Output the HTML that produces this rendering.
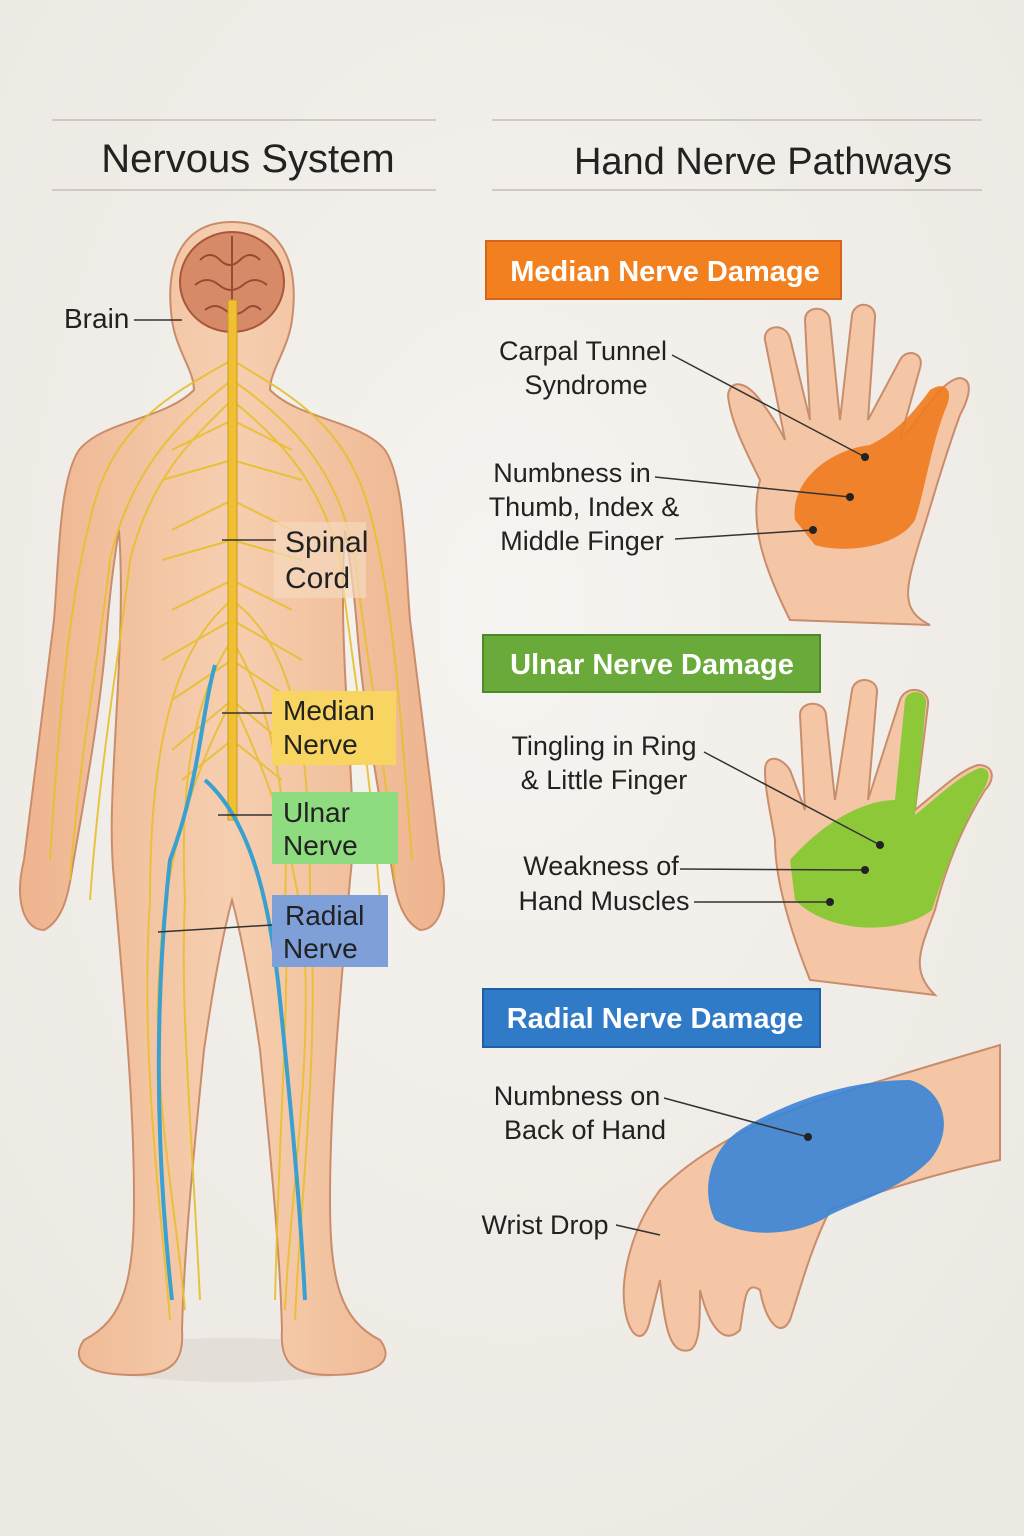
<!DOCTYPE html>
<html><head><meta charset="utf-8"><style>
html,body{margin:0;padding:0;}
body{width:1024px;height:1536px;background:#f2efea;overflow:hidden;font-family:"Liberation Sans",sans-serif;}
svg{display:block}
text{font-family:"Liberation Sans",sans-serif;}
</style></head><body>
<svg width="1024" height="1536" viewBox="0 0 1024 1536" xmlns="http://www.w3.org/2000/svg">
<defs>
<radialGradient id="bg" cx="50%" cy="40%" r="70%"><stop offset="0" stop-color="#f6f4f0"/><stop offset="1" stop-color="#ece8e2"/></radialGradient>
<linearGradient id="skin" x1="0" x2="1"><stop offset="0" stop-color="#eeb48e"/><stop offset="0.5" stop-color="#f6cfb0"/><stop offset="1" stop-color="#eeb48e"/></linearGradient>
</defs>
<rect width="1024" height="1536" fill="url(#bg)"/>
<line x1="52" y1="120" x2="436" y2="120" stroke="#cfcac4" stroke-width="2"/>
<line x1="52" y1="190" x2="436" y2="190" stroke="#cfcac4" stroke-width="2"/>
<line x1="492" y1="120" x2="982" y2="120" stroke="#cfcac4" stroke-width="2"/>
<line x1="492" y1="190" x2="982" y2="190" stroke="#cfcac4" stroke-width="2"/>
<text x="248" y="172" font-size="40" text-anchor="middle" fill="#222">Nervous System</text>
<text x="763" y="174" font-size="38" text-anchor="middle" fill="#222">Hand Nerve Pathways</text>

<ellipse cx="232" cy="1360" rx="150" ry="22" fill="#ddd6cf" opacity="0.6"/>
<path fill="url(#skin)" stroke="#c98d6c" stroke-width="2" d="
M232 222 C 280 222 300 260 292 320 C 288 350 270 370 270 390 C 300 420 360 420 385 450
C 405 480 405 560 410 620 C 420 700 430 780 440 860 C 450 900 440 930 420 930
C 400 920 395 890 392 870 C 380 800 365 720 358 640 C 355 600 350 560 345 530 C 340 600 345 680 350 760 C 352 800 355 840 350 880
C 340 1000 330 1100 330 1200 C 330 1280 340 1320 380 1340 C 395 1360 380 1375 330 1375
C 290 1375 280 1360 282 1330 C 280 1250 270 1150 260 1050 C 250 980 240 930 232 900
C 224 930 214 980 204 1050 C 194 1150 184 1250 182 1330 C 184 1360 174 1375 134 1375
C 84 1375 70 1360 84 1340 C 124 1320 134 1280 134 1200 C 134 1100 124 1000 114 880
C 110 840 112 800 114 760 C 118 680 124 600 119 530 C 114 560 109 600 106 640 C 99 720 84 800 72 870 C 69 890 64 920 44 930
C 24 930 14 900 24 860 C 34 780 44 700 54 620 C 59 560 59 480 79 450
C 104 420 164 420 194 390 C 194 370 176 350 172 320 C 164 260 184 222 232 222 Z"/>
<ellipse cx="232" cy="282" rx="52" ry="50" fill="#d68a68" stroke="#a9573c" stroke-width="2"/>
<path d="M200 260 q10 -10 20 0 q10 10 20 0 q10 -10 20 0 M195 285 q12 -10 24 0 q12 10 24 0 q12 -10 24 0 M205 310 q10 -8 20 0 q10 8 20 0 q8 -8 16 0 M232 236 v88" stroke="#9a4a30" stroke-width="2" fill="none"/>
<g stroke="#e8bf30" stroke-width="2" fill="none" opacity="0.9">
<path d="M232 360 C 160 400 110 430 90 520 C 70 600 60 700 50 860"/>
<path d="M232 380 C 180 420 130 470 110 560 C 100 650 80 750 70 880"/>
<path d="M232 360 C 300 400 350 430 372 520 C 392 600 400 700 412 860"/>
<path d="M232 380 C 290 420 340 470 355 560 C 365 650 385 750 395 880"/>
<path d="M232 400 C 190 440 150 480 130 560 C 120 650 100 760 90 900"/>
<path d="M232 400 C 280 440 320 480 340 560 C 350 650 370 760 380 900"/>
<path d="M232 600 C 170 650 150 760 150 900 C 140 1050 160 1200 170 1320"/>
<path d="M232 600 C 300 650 310 760 310 900 C 320 1050 300 1200 295 1320"/>
<path d="M232 640 C 190 700 180 800 185 900 C 180 1000 190 1100 200 1300"/>
<path d="M232 640 C 270 700 290 800 285 900 C 290 1000 280 1100 275 1300"/>
<path d="M232 700 C 200 760 165 850 160 960 C 150 1080 175 1200 185 1310"/>
<path d="M232 700 C 260 760 300 850 305 960 C 310 1080 290 1200 285 1310"/>
<path d="M232 420 l-60 30 M232 420 l60 30 M232 460 l-70 20 M232 460 l70 20 M232 500 l-60 30 M232 500 l60 30 M232 540 l-70 20 M232 540 l70 20 M232 580 l-60 30 M232 580 l60 30 M232 620 l-70 40 M232 620 l70 40 M232 660 l-60 40 M232 660 l60 40 M232 700 l-60 50 M232 700 l60 50 M232 740 l-50 40 M232 740 l50 40"/>
</g>
<rect x="228" y="300" width="9" height="520" fill="#f0c030" stroke="#c99a20" stroke-width="1"/>
<path d="M215 665 C 200 720 200 780 170 860 C 160 950 150 1100 172 1300" stroke="#3aa0cf" stroke-width="4" fill="none"/>
<path d="M205 780 C 250 820 270 900 280 1000 C 290 1100 300 1200 305 1300" stroke="#3aa0cf" stroke-width="4" fill="none"/>

<text x="64" y="328" font-size="28" fill="#222">Brain</text>
<line x1="134" y1="320" x2="182" y2="320" stroke="#333" stroke-width="1.5"/>
<rect x="274" y="522" width="92" height="76" fill="#f5d8bd" opacity="0.7"/>
<text x="285" y="552" font-size="30" fill="#222">Spinal</text>
<text x="285" y="588" font-size="30" fill="#222">Cord</text>
<line x1="222" y1="540" x2="276" y2="540" stroke="#333" stroke-width="1.5"/>
<rect x="272" y="691" width="124" height="74" fill="#f7d560"/>
<text x="283" y="720" font-size="28" fill="#222">Median</text>
<text x="283" y="754" font-size="28" fill="#222">Nerve</text>
<line x1="222" y1="713" x2="272" y2="713" stroke="#333" stroke-width="1.5"/>
<rect x="272" y="792" width="126" height="72" fill="#8fdc80"/>
<text x="283" y="822" font-size="28" fill="#222">Ulnar</text>
<text x="283" y="855" font-size="28" fill="#222">Nerve</text>
<line x1="218" y1="815" x2="272" y2="815" stroke="#333" stroke-width="1.5"/>
<rect x="272" y="895" width="116" height="72" fill="#7f9fd8"/>
<text x="285" y="925" font-size="28" fill="#222">Radial</text>
<text x="283" y="958" font-size="28" fill="#222">Nerve</text>
<line x1="158" y1="932" x2="272" y2="925" stroke="#333" stroke-width="1.5"/>

<rect x="486" y="241" width="355" height="58" fill="#f2801f" stroke="#d4651a" stroke-width="2"/>
<text x="665" y="281" font-size="29" font-weight="bold" fill="#fff" text-anchor="middle">Median Nerve Damage</text>
<rect x="483" y="635" width="337" height="57" fill="#6aaa3a" stroke="#4f8a28" stroke-width="2"/>
<text x="652" y="674" font-size="29" font-weight="bold" fill="#fff" text-anchor="middle">Ulnar Nerve Damage</text>
<rect x="483" y="989" width="337" height="58" fill="#2f7bc8" stroke="#1e5fa6" stroke-width="2"/>
<text x="655" y="1028" font-size="29" font-weight="bold" fill="#fff" text-anchor="middle">Radial Nerve Damage</text>

<path fill="#f4c6a6" stroke="#c98d6c" stroke-width="2" d="M790 620 C 760 560 750 520 760 480 C 745 450 730 420 728 395 C 730 380 745 380 760 400 C 775 420 780 430 785 440 L 765 340 C 763 325 785 322 790 338 L 810 420 L 805 320 C 805 305 828 305 830 320 L 840 420 L 852 315 C 855 300 876 302 875 318 L 868 420 L 900 360 C 906 348 925 352 920 368 L 900 440 C 920 420 940 380 960 378 C 975 380 968 400 960 415 C 940 470 930 510 920 540 C 905 590 900 610 930 625 Z"/>
<path fill="#ef7a1e" opacity="0.9" d="M795 520 C 790 480 830 450 870 445 C 900 430 915 410 930 390 C 945 380 955 390 945 410 C 930 450 925 490 915 520 C 900 545 850 555 815 545 Z"/>
<g font-size="27" fill="#222" text-anchor="middle">
<text x="583" y="360">Carpal Tunnel</text><text x="586" y="394">Syndrome</text>
<text x="572" y="482">Numbness in</text><text x="584" y="516">Thumb, Index &amp;</text><text x="582" y="550">Middle Finger</text>
<text x="604" y="755">Tingling in Ring</text><text x="604" y="789">&amp; Little Finger</text>
<text x="601" y="875">Weakness of</text><text x="604" y="910">Hand Muscles</text>
<text x="577" y="1105">Numbness on</text><text x="585" y="1139">Back of Hand</text>
<text x="545" y="1234">Wrist Drop</text>
</g>
<path fill="#f4c6a6" stroke="#c98d6c" stroke-width="2" d="M810 980 C 790 930 775 880 775 840 C 770 810 765 790 765 770 C 765 755 780 755 790 770 L 805 810 L 800 715 C 800 700 825 700 826 715 L 835 800 L 852 690 C 855 675 878 678 877 692 L 868 800 L 900 700 C 906 684 930 688 928 705 L 915 810 C 940 790 960 770 978 765 C 995 765 995 780 985 790 C 960 830 945 870 935 910 C 920 950 910 970 935 995 Z"/>
<path fill="#86c832" opacity="0.95" d="M790 860 C 830 815 870 800 895 800 L 905 700 C 908 688 928 690 926 704 L 915 815 C 940 795 960 775 980 768 C 992 768 990 780 982 792 C 960 830 945 870 932 910 C 900 935 830 935 795 900 Z"/>
<path fill="#f4c6a6" stroke="#c98d6c" stroke-width="2" d="M1000 1045 C 950 1060 880 1080 820 1100 C 760 1120 700 1150 660 1190 C 630 1230 620 1280 625 1310 C 630 1340 645 1345 650 1320 L 660 1280 C 665 1330 670 1355 690 1350 C 700 1345 700 1320 700 1290 C 710 1330 725 1345 740 1330 C 745 1300 745 1280 760 1290 C 765 1320 780 1340 790 1320 C 800 1290 810 1250 830 1210 C 880 1190 950 1170 1000 1160 Z"/>
<path fill="#3a84d6" opacity="0.9" d="M740 1130 C 790 1100 850 1080 910 1080 C 945 1090 955 1130 930 1160 C 900 1190 860 1200 830 1215 C 800 1235 750 1240 715 1220 C 700 1190 710 1150 740 1130 Z"/>
<g stroke="#333" stroke-width="1.5">
<line x1="672" y1="355" x2="865" y2="457"/>
<line x1="655" y1="477" x2="850" y2="497"/>
<line x1="675" y1="539" x2="813" y2="530"/>
<line x1="704" y1="752" x2="880" y2="845"/>
<line x1="680" y1="869" x2="865" y2="870"/>
<line x1="694" y1="902" x2="830" y2="902"/>
<line x1="664" y1="1098" x2="808" y2="1137"/>
<line x1="616" y1="1225" x2="660" y2="1235"/>
</g>
<g fill="#222">
<circle cx="865" cy="457" r="4"/><circle cx="850" cy="497" r="4"/><circle cx="813" cy="530" r="4"/>
<circle cx="880" cy="845" r="4"/><circle cx="865" cy="870" r="4"/><circle cx="830" cy="902" r="4"/>
<circle cx="808" cy="1137" r="4"/>
</g>
</svg>
</body></html>
